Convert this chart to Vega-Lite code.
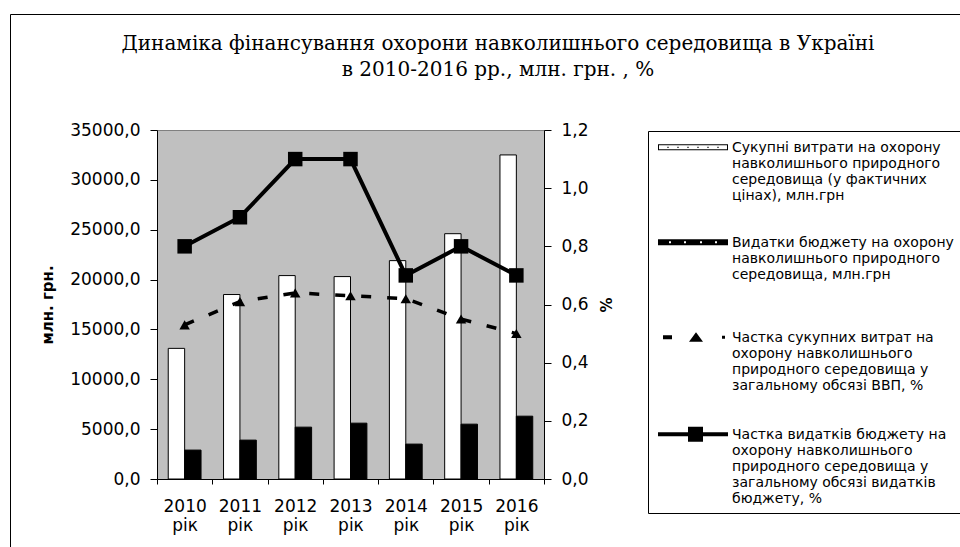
{
  "$schema": "https://vega.github.io/schema/vega-lite/v6.json",
  "width": 387,
  "height": 349,
  "autosize": {"type": "none"},
  "padding": {"left": 157, "top": 130, "right": 416, "bottom": 68},
  "background": "white",
  "title": {
    "text": ["Динаміка фінансування охорони навколишнього середовища в Україні", "в 2010-2016 рр., млн. грн. , %"],
    "orient": "none",
    "font": "DejaVu Serif",
    "fontSize": 20,
    "fontWeight": "normal",
    "color": "black",
    "anchor": "middle",
    "frame": "group",
    "baseline": "top",
    "dx": 341,
    "dy": -96.5,
    "lineHeight": 26
  },
  "data": {
    "values": [
      {"year": "2010", "series": "s1", "value": 13100},
      {"year": "2011", "series": "s1", "value": 18500},
      {"year": "2012", "series": "s1", "value": 20400},
      {"year": "2013", "series": "s1", "value": 20300},
      {"year": "2014", "series": "s1", "value": 21900},
      {"year": "2015", "series": "s1", "value": 24600},
      {"year": "2016", "series": "s1", "value": 32500},
      {"year": "2010", "series": "s2", "value": 2900},
      {"year": "2011", "series": "s2", "value": 3900},
      {"year": "2012", "series": "s2", "value": 5200},
      {"year": "2013", "series": "s2", "value": 5600},
      {"year": "2014", "series": "s2", "value": 3500},
      {"year": "2015", "series": "s2", "value": 5500},
      {"year": "2016", "series": "s2", "value": 6300},
      {"year": "2010", "series": "s3", "value": 0.53},
      {"year": "2011", "series": "s3", "value": 0.61},
      {"year": "2012", "series": "s3", "value": 0.64},
      {"year": "2013", "series": "s3", "value": 0.63},
      {"year": "2014", "series": "s3", "value": 0.62},
      {"year": "2015", "series": "s3", "value": 0.55},
      {"year": "2016", "series": "s3", "value": 0.50},
      {"year": "2010", "series": "s4", "value": 0.8},
      {"year": "2011", "series": "s4", "value": 0.9},
      {"year": "2012", "series": "s4", "value": 1.1},
      {"year": "2013", "series": "s4", "value": 1.1},
      {"year": "2014", "series": "s4", "value": 0.7},
      {"year": "2015", "series": "s4", "value": 0.8},
      {"year": "2016", "series": "s4", "value": 0.7}
    ]
  },
  "encoding": {
    "x": {
      "field": "year",
      "type": "nominal",
      "scale": {"paddingInner": 0, "paddingOuter": 0},
      "axis": {
        "title": null,
        "labelAngle": 0,
        "labelExpr": "datum.label ? [datum.label, 'рік'] : ''",
        "tickBand": "extent",
        "tickSize": 5,
        "labelPadding": 14,
        "labelFontSize": 17,
        "labelLineHeight": 19,
        "labelBaseline": "top"
      }
    }
  },
  "layer": [
    {
      "transform": [{"filter": "datum.series == 's1' || datum.series == 's2'"}],
      "mark": {"type": "bar", "stroke": "black", "strokeWidth": 1},
      "encoding": {
        "xOffset": {"field": "series", "type": "nominal", "scale": {"paddingInner": 0, "paddingOuter": 0.686}},
        "y": {
          "field": "value",
          "type": "quantitative",
          "scale": {"domain": [0, 35000], "nice": false},
          "axis": {
            "title": "млн. грн.",
            "titleFontWeight": "bold",
            "titleFontSize": 15,
            "titlePadding": 14,
            "values": [0, 5000, 10000, 15000, 20000, 25000, 30000, 35000],
            "labelExpr": "replace(format(datum.value, '.1f'), '.', ',')",
            "tickSize": 7,
            "labelPadding": 10,
            "labelFontSize": 17,
            "grid": false
          }
        },
        "fill": {
          "field": "series",
          "type": "nominal",
          "scale": {"domain": ["s1", "s2"], "range": ["white", "black"]},
          "legend": null
        }
      }
    },
    {
      "encoding": {
        "y": {
          "field": "value",
          "type": "quantitative",
          "scale": {"domain": [0, 1.2], "nice": false},
          "axis": {
            "orient": "right",
            "title": "%",
            "titleFontWeight": "bold",
            "titleFontSize": 15,
            "titlePadding": 8,
            "values": [0, 0.2, 0.4, 0.6, 0.8, 1.0, 1.2],
            "labelExpr": "replace(format(datum.value, '.1f'), '.', ',')",
            "tickSize": 7,
            "labelPadding": 10,
            "labelFontSize": 17,
            "grid": false
          }
        }
      },
      "layer": [
        {
          "transform": [{"filter": "datum.series == 's3'"}],
          "mark": {"type": "line", "color": "black", "strokeWidth": 3.5, "strokeDash": [10, 16]},
          "encoding": {
            "opacity": {
              "datum": 1,
              "type": "quantitative",
              "scale": {"domain": [0, 1], "range": [1, 1]},
              "legend": {
                "orient": "none",
                "legendX": -147,
                "legendY": -116,
                "padding": 700,
                "strokeColor": "black",
                "values": [1],
                "symbolOpacity": 0,
                "labelOpacity": 0,
                "labelExpr": "''",
                "title": null
              }
            }
          }
        },
        {
          "transform": [{"filter": "datum.series == 's3'"}],
          "mark": {"type": "point", "shape": "triangle-up", "filled": true, "color": "black", "size": 110, "opacity": 1}
        },
        {
          "transform": [{"filter": "datum.series == 's4'"}],
          "mark": {"type": "line", "color": "black", "strokeWidth": 4}
        },
        {
          "transform": [{"filter": "datum.series == 's4'"}],
          "mark": {"type": "point", "shape": "square", "filled": true, "color": "black", "size": 210, "opacity": 1}
        },
        {
          "transform": [{"filter": "datum.series == 's3' || datum.series == 's4'"}],
          "mark": {"type": "point", "filled": true, "opacity": 0, "size": 400, "color": "black"},
          "encoding": {
            "shape": {
              "field": "series",
              "type": "nominal",
              "scale": {
                "domain": ["s1", "s2", "s3", "s4"],
                "range": [
                  "M-3.5,-0.77H3.5V-0.17H-3.5Z M-3.4,-0.67V-0.27H3.4V-0.67Z M-2.56,-0.53H-2.44V-0.41H-2.56Z M-1.56,-0.53H-1.44V-0.41H-1.56Z M-0.56,-0.53H-0.44V-0.41H-0.56Z M0.44,-0.53H0.56V-0.41H0.44Z M1.44,-0.53H1.56V-0.41H1.44Z M2.44,-0.53H2.56V-0.41H2.44Z",
                  "M-3.5,-0.77H3.5V-0.17H-3.5Z M-2.4,-0.57V-0.37H-2.2V-0.57Z M-0.9,-0.57V-0.37H-0.7V-0.57Z M0.7,-0.57V-0.37H0.9V-0.57Z M2.2,-0.57V-0.37H2.4V-0.57Z",
                  "M-3.0,-0.67H-2.1V-0.27H-3.0Z M-0.4,-0.02L0.3,-0.97L1.0,-0.02Z M2.9,-0.62H3.2V-0.32H2.9Z",
                  "M-3.5,-0.67H3.5V-0.27H-3.5Z M-0.5,-1.22H1.0V0.28H-0.5Z"
                ]
              },
              "legend": {
                "title": " ",
                "titleFontSize": 4,
                "titlePadding": 0,
                "orient": "none",
                "legendX": 491,
                "legendY": 1,
                "padding": 7,
                "rowPadding": 33,
                "symbolSize": 400,
                "symbolOffset": 28,
                "symbolStrokeWidth": 0,
                "labelOffset": 29,
                "labelFont": "DejaVu Sans",
                "labelFontSize": 14,
                "labelLimit": 400,
                "labelColor": "black",
                "labelBaseline": "alphabetic",
                "strokeColor": "black",
                "fillColor": "white",
                "labelExpr": "datum.value == 's1' ? ['Сукупні витрати на охорону', 'навколишнього природного', 'середовища (у фактичних', 'цінах), млн.грн'] : datum.value == 's2' ? ['Видатки бюджету на охорону', 'навколишнього природного', 'середовища, млн.грн', ' '] : datum.value == 's3' ? ['Частка сукупних витрат на', 'охорону навколишнього', 'природного середовища у', 'загальному обсязі ВВП, %'] : ['Частка видатків бюджету на', 'охорону навколишнього', 'природного середовища у', 'загальному обсязі видатків', 'бюджету, %']",
                "encode": {
                  "symbols": {
                    "update": {
                      "opacity": {"value": 1}
                    }
                  },
                  "labels": {
                    "update": {"lineHeight": {"value": 16.7}}
                  }
                }
              }
            }
          }
        }
      ]
    }
  ],
  "resolve": {"scale": {"y": "independent"}},
  "config": {
    "font": "DejaVu Sans",
    "view": {"fill": "#c0c0c0", "stroke": "#808080"},
    "axis": {
      "domainColor": "black",
      "tickColor": "black",
      "labelColor": "black",
      "titleColor": "black",
      "labelFont": "DejaVu Sans",
      "titleFont": "DejaVu Sans"
    }
  }
}
